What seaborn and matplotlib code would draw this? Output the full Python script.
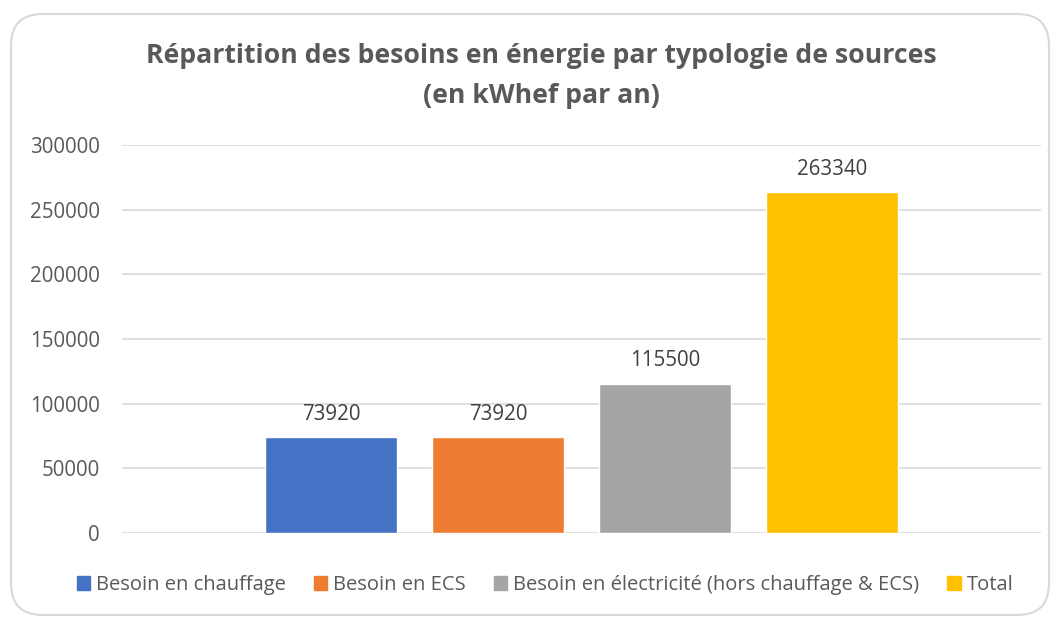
import pandas as pd
import matplotlib.pyplot as plt
import seaborn as sns
from matplotlib.patches import FancyBboxPatch

# data
series = ["Besoin en chauffage", "Besoin en ECS",
          "Besoin en électricité (hors chauffage & ECS)", "Total"]
values = [73920, 73920, 115500, 263340]
colors = ["#4472C4", "#ED7D31", "#A5A5A5", "#FFC000"]
yticks = [0, 50000, 100000, 150000, 200000, 250000, 300000]

df = pd.DataFrame({"serie": series, "kwh": values})

sns.set_style("white")
plt.rcParams["font.family"] = ["Open Sans", "DejaVu Sans"]

fig = plt.figure(figsize=(10.54, 6.17), dpi=100)

# rounded chart frame, kept behind the axes
frame = FancyBboxPatch((11 / 1054, 2 / 617), 1038 / 1054, 601 / 617,
                       boxstyle="round,pad=0,rounding_size=0.03",
                       transform=fig.transFigure, facecolor="white",
                       edgecolor="#D9D9D9", lw=1.5, mutation_aspect=1054 / 617,
                       zorder=-5)
fig.patches.append(frame)

ax = fig.add_axes([122 / 1054, 84 / 617, 919 / 1054, 388 / 617])
ax.set_facecolor("none")
sns.barplot(data=df, x="serie", y="kwh", hue="serie", order=series,
            hue_order=series, palette=colors, width=0.79, dodge=False,
            legend=False, ax=ax, saturation=1)

for i, v in enumerate(values):
    ax.annotate(str(v), (i, v), xytext=(0, 16.5), textcoords="offset points",
                ha="center", va="center", fontsize=14.8, color="#404040")

ax.set_xlim(-1.251, 4.251)
ax.set_ylim(0, 300000)
ax.set_yticks(yticks)
ax.set_yticklabels([str(t) for t in yticks], fontsize=14.8, color="#595959")
ax.tick_params(axis="y", length=0, pad=16)
ax.set_xticks([])
ax.set_xlabel("")
ax.set_ylabel("")
ax.grid(axis="y", color="#D9D9D9", lw=1.2)
ax.set_axisbelow(True)
for s in ax.spines.values():
    s.set_visible(False)

fig.text(541 / 1054, 1 - 56 / 617,
         "Répartition des besoins en énergie par typologie de sources",
         ha="center", va="center", fontsize=19.2, fontweight="bold", color="#595959")
fig.text(541 / 1054, 1 - 96 / 617, "(en kWhef par an)",
         ha="center", va="center", fontsize=19.2, fontweight="bold", color="#595959")

handles = [plt.Rectangle((0, 0), 1, 1, color=c) for c in colors]
fig.legend(handles, series, loc="center", bbox_to_anchor=(545 / 1054, 1 - 585 / 617),
           ncol=4, frameon=False, fontsize=14.5, labelcolor="#595959",
           handlelength=0.65, handleheight=0.65, handletextpad=0.3, columnspacing=1.4)

fig.savefig("out.png", dpi=100)
